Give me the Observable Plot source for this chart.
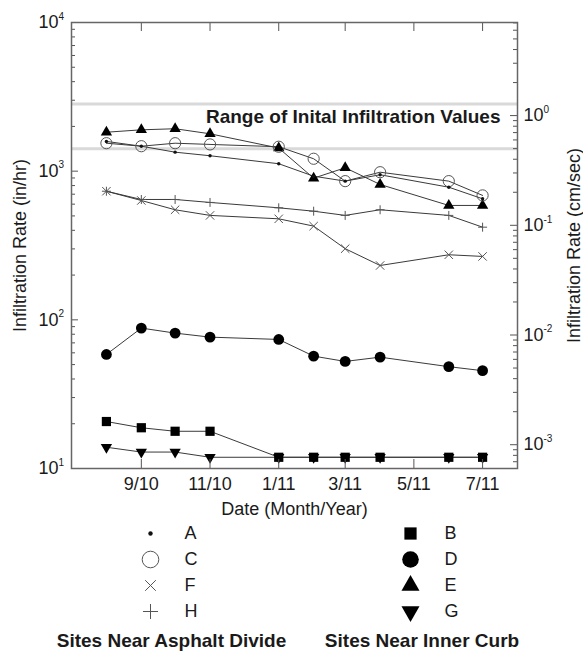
<!DOCTYPE html>
<html><head><meta charset="utf-8">
<script src="https://cdn.jsdelivr.net/npm/d3@7"></script>
<script src="https://cdn.jsdelivr.net/npm/@observablehq/plot@0.6"></script>
<style>
html,body{margin:0;padding:0;background:#fff;}
#chart svg,#legend svg{display:block;}
</style></head><body><div id="chart"></div><div id="legend"></div>
<script>
// ---- data ----
const months = ["2010-08","2010-09","2010-10","2010-11","2011-01","2011-02","2011-03","2011-04","2011-06","2011-07"];
const siteA = [1585, 1472, 1342, 1270, 1122, 925, 857, 946, 780, 652];
const siteB = [20.7, 18.8, 17.8, 17.8, 11.9, 11.9, 11.9, 11.9, 11.9, 11.9];
const siteC = [1542, 1472, 1542, 1513, 1460, 1212, 857, 984, 857, 687];
const siteD = [58.5, 88, 81.4, 76.5, 73.8, 57, 52.5, 56.1, 48.4, 45.5];
const siteE = [1828, 1897, 1929, 1784, 1430, 897, 1054, 814, 588, 588];
const siteF = [733, 635, 550, 504, 478, 427, 301, 232, 274, 267];
const siteG = [13.9, 12.9, 12.9, 11.9, 11.9, 11.9, 11.9, 11.9, 11.9, 11.9];
const siteH = [733, 645, 645, 616, 567, 538, 504, 550, 504, 420];

const xDomain = ["2010-07", "2011-08"];
const xTickMonths = ["2010-09","2010-11","2011-01","2011-03","2011-05","2011-07"];
const xTickLabels = ["9/10","11/10","1/11","3/11","5/11","7/11"];

const leftDomain = [10, 10000];            // in/hr
const leftMajor = [10, 100, 1000, 10000];
const leftExp = ["1", "2", "3", "4"];
const rightDomain = [6.07e-4, 7.056];      // cm/sec, as drawn on the right axis
const rightMajor = [1e-3, 1e-2, 1e-1, 1];
const rightExp = ["-3", "-2", "-1", "0"];

const bandCmPerSec = [1, 2];               // range of initial infiltration values
const bandLabel = "Range of Inital Infiltration Values";

const legendAsphalt = ["A", "C", "F", "H"];
const legendCurb = ["B", "D", "E", "G"];
const groupTitles = ["Sites Near Asphalt Divide", "Sites Near Inner Curb"];

// ---- helpers ----
const parse = d3.utcParse("%Y-%m");
const IN_HR_PER_CM_S = 3600 / 2.54;
const bandInHr = bandCmPerSec.map(v => v * IN_HR_PER_CM_S);
const bandMid = Math.sqrt(bandInHr[0] * bandInHr[1]);
const lL0 = Math.log10(leftDomain[0]), lL1 = Math.log10(leftDomain[1]);
const lR0 = Math.log10(rightDomain[0]), lR1 = Math.log10(rightDomain[1]);
const rToLeft = r => Math.pow(10, lL0 + (lL1 - lL0) * (Math.log10(r) - lR0) / (lR1 - lR0));

const leftMinor = [];
for (let e = 1; e <= 3; e++) for (let k = 2; k <= 9; k++) leftMinor.push(k * Math.pow(10, e));
const rightMinor = [];
for (let e = -4; e <= 0; e++) for (let k = 2; k <= 9; k++) {
  const r = k * Math.pow(10, e);
  if (r >= rightDomain[0] && r <= rightDomain[1]) rightMinor.push(r);
}

const series = {A: siteA, B: siteB, C: siteC, D: siteD, E: siteE, F: siteF, G: siteG, H: siteH};
const rows = [];
for (const [site, vals] of Object.entries(series))
  vals.forEach((v, i) => rows.push({site, date: parse(months[i]), value: v}));

const TRI_DOWN = {draw(ctx, size) {
  const y = -Math.sqrt(size / (3 * Math.sqrt(3)));
  ctx.moveTo(0, -2 * y);
  ctx.lineTo(Math.sqrt(3) * y, y);
  ctx.lineTo(-Math.sqrt(3) * y, y);
  ctx.closePath();
}};
const siteStyle = {
  A: {symbol: "circle", r: 1.7, fill: "#111", stroke: "none", legendR: 2.2},
  C: {symbol: "circle", r: 5.6, fill: "none", stroke: "#555", legendR: 8.3},
  F: {symbol: "times", r: 3.9, fill: "none", stroke: "#555", legendR: 4.9},
  H: {symbol: "plus", r: 3.0, fill: "none", stroke: "#555", legendR: 4.9},
  B: {symbol: "square", r: 5.2, fill: "#000", stroke: "none", legendR: 6.9},
  D: {symbol: "circle", r: 5.4, fill: "#000", stroke: "none", legendR: 8.3},
  E: {symbol: "triangle", r: 4.2, fill: "#000", stroke: "none", legendR: 6.7},
  G: {symbol: TRI_DOWN, r: 4.2, fill: "#000", stroke: "none", legendR: 6.7}
};
const drawOrder = ["E", "C", "A", "F", "H", "D", "B", "G"];

const xTicks = xTickMonths.map(parse);
const fmtX = d => xTickLabels[xTicks.findIndex(t => +t === +d)];
const axisStroke = "#555";
const font = "'Liberation Sans', Arial, sans-serif";

const W = 583, H = 520, ML = 71, MR = 66, MT = 22, MB = 52;
const FW = W - ML - MR, FH = H - MT - MB;
const MAJ = 7, MIN = 4, XT = 9;

const chart = Plot.plot({
  width: W, height: H,
  marginLeft: ML, marginRight: MR, marginTop: MT, marginBottom: MB,
  style: {fontFamily: font, fontSize: "18px", color: "#1a1a1a", background: "#fff"},
  x: {type: "utc", domain: xDomain.map(parse), axis: null},
  y: {type: "log", domain: leftDomain, axis: null},
  marks: [
    Plot.ruleY(bandInHr, {stroke: "#d9d9d9", strokeWidth: 3}),
    Plot.text([bandLabel], {frameAnchor: "right", y: () => bandMid, textAnchor: "end", lineAnchor: "middle",
      dx: -17, dy: -9, fontWeight: "bold", fontSize: 19}),
    Plot.line(rows, {x: "date", y: "value", z: "site", stroke: "#3a3a3a", strokeWidth: 1}),
    ...drawOrder.map(s => {
      const st = siteStyle[s];
      return Plot.dot(rows.filter(r => r.site === s), {x: "date", y: "value",
        symbol: st.symbol, r: st.r, fill: st.fill, stroke: st.stroke, strokeWidth: 1});
    }),
    // inward ticks
    Plot.tickY(leftMajor, {y: d => d, insetRight: FW - MAJ, stroke: axisStroke}),
    Plot.tickY(leftMinor, {y: d => d, insetRight: FW - MIN, stroke: axisStroke}),
    Plot.tickY(rightMajor.map(rToLeft), {y: d => d, insetLeft: FW - MAJ, stroke: axisStroke}),
    Plot.tickY(rightMinor.map(rToLeft), {y: d => d, insetLeft: FW - MIN, stroke: axisStroke}),
    Plot.tickX(xTicks, {x: d => d, insetTop: FH - XT, stroke: axisStroke}),
    Plot.tickX(xTicks, {x: d => d, insetBottom: FH - XT, stroke: axisStroke}),
    // x tick labels
    Plot.axisX(xTicks, {anchor: "bottom", tickSize: 0, tickPadding: 9, tickFormat: fmtX, label: null, fontSize: 18}),
    // y tick labels with exponents
    Plot.text(leftMajor, {y: d => d, frameAnchor: "left", text: () => "10", textAnchor: "end", dx: -13}),
    Plot.text(leftMajor, {y: d => d, frameAnchor: "left", text: (d, i) => leftExp[i], textAnchor: "start", dx: -13, dy: -6, fontSize: 10}),
    Plot.text(rightMajor, {y: d => rToLeft(d), frameAnchor: "right", text: () => "10", textAnchor: "start", dx: 6}),
    Plot.text(rightMajor, {y: d => rToLeft(d), frameAnchor: "right", text: (d, i) => rightExp[i], textAnchor: "start", dx: 26, dy: -6, fontSize: 10}),
    // axis titles
    Plot.text(["Infiltration Rate (in/hr)"], {frameAnchor: "left", rotate: -90, dx: -51, textAnchor: "middle", lineAnchor: "middle"}),
    Plot.text(["Infiltration Rate (cm/sec)"], {frameAnchor: "right", rotate: -90, dx: 57, textAnchor: "middle", lineAnchor: "middle"}),
    Plot.text(["Date (Month/Year)"], {frameAnchor: "bottom", dy: 41, textAnchor: "middle", lineAnchor: "middle"}),
    Plot.frame({stroke: "#666", strokeWidth: 1.5})
  ]
});
document.getElementById("chart").appendChild(chart);

// ---- legend ----
const legendRows = [
  ...legendAsphalt.map((s, i) => ({group: "asphalt", row: i, site: s})),
  ...legendCurb.map((s, i) => ({group: "curb", row: i, site: s}))
];
const legend = Plot.plot({
  width: 583, height: 132, margin: 0,
  style: {fontFamily: font, fontSize: "18px", color: "#1a1a1a", background: "#fff"},
  x: {type: "point", domain: ["asphalt", "curb"], range: [150, 410], padding: 0, axis: null},
  y: {type: "point", domain: [0, 1, 2, 3], range: [12.7, 91.7], padding: 0, axis: null},
  marks: [
    ...legendRows.map(d => {
      const st = siteStyle[d.site];
      return Plot.dot([d], {x: "group", y: "row", symbol: st.symbol, r: st.legendR,
        fill: st.fill, stroke: st.stroke, strokeWidth: 1});
    }),
    Plot.text(legendRows, {x: "group", y: "row", text: "site", textAnchor: "start", dx: 34}),
    Plot.text([groupTitles[0]], {x: () => "asphalt", frameAnchor: "bottom", lineAnchor: "middle", dy: -12, dx: 21, fontWeight: "bold", fontSize: 19}),
    Plot.text([groupTitles[1]], {x: () => "curb", frameAnchor: "bottom", lineAnchor: "middle", dy: -12, dx: 11.5, fontWeight: "bold", fontSize: 19})
  ]
});
document.getElementById("legend").appendChild(legend);
</script></body></html>
